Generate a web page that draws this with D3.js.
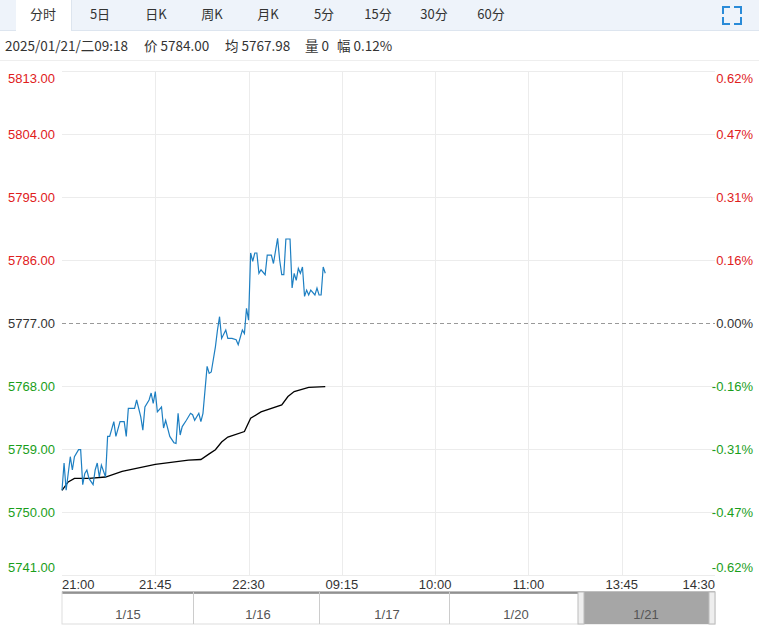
<!DOCTYPE html>
<html><head><meta charset="utf-8">
<script src="https://cdn.jsdelivr.net/npm/d3@7/dist/d3.min.js"></script>
<style>body{margin:0;background:#fff;font-family:"Microsoft YaHei","Noto Sans CJK SC",sans-serif}</style>
</head><body><svg id="c" width="759" height="629"></svg>
<script>
const tabs=["分时","5日","日K","周K","月K","5分","15分","30分","60分"];
const yTicks=[5813,5804,5795,5786,5777,5768,5759,5750,5741];
const pctTicks=["0.62%","0.47%","0.31%","0.16%","0.00%","-0.16%","-0.31%","-0.47%","-0.62%"];
const timeLabels=["21:00","21:45","22:30","09:15","10:00","11:00","13:45","14:30"];
const navDays=["1/15","1/16","1/17","1/20","1/21"];
const infoParts=["2025/01/21/二09:18","价 5784.00","均 5767.98","量 0","幅 0.12%"];
const priceMin=[0,1,2,4,5,6,8,9,10,11,12,13,15,16,17,18,19,21,22,23,25,26,28,30,31,32,35,36,38,39,40,42,43,44,45,46,48,49,50,52,54,55,56,57,58,60,62,63,64,66,67,68,70,71,72,74,75,76,77,79,80,82,84,85,87,88,89,90,91,92,93,94,95,96,98,99,101,102,104,105,106,107,108,110,111,112,113,114,115,116,117,118,119,120,122,123,124,125,126,127];
const price=[5753.1,5757.0,5753.1,5757.9,5756.0,5757.9,5758.9,5758.9,5753.9,5755.5,5756.0,5754.8,5753.9,5756.0,5757.0,5755.0,5756.7,5755.0,5760.8,5760.8,5762.9,5760.8,5762.9,5762.9,5760.8,5764.8,5764.8,5766.0,5763.6,5761.7,5765.0,5766.0,5767.0,5765.5,5767.2,5764.3,5765.0,5762.0,5763.1,5760.8,5759.9,5759.8,5764.1,5761.0,5762.2,5763.1,5764.1,5763.9,5763.1,5764.1,5762.9,5764.1,5770.8,5769.8,5770.0,5773.6,5776.0,5777.9,5774.8,5776.0,5774.8,5774.8,5774.6,5773.9,5776.0,5775.5,5779.1,5777.4,5787.0,5785.8,5787.0,5787.0,5784.1,5784.6,5783.9,5786.7,5786.7,5785.5,5789.1,5786.0,5783.9,5783.9,5789.0,5789.0,5782.0,5784.1,5783.1,5784.8,5784.1,5785.0,5780.8,5781.7,5781.0,5781.7,5781.0,5782.0,5781.0,5781.0,5785.0,5784.1];
const avgMin=[0,3,6,13,21,29,45,61,67,71,74,77,80,88,91,96,106,109,112,119,127];
const avg=[5753.1,5754.3,5754.8,5754.8,5755.0,5755.8,5756.8,5757.4,5757.5,5758.3,5758.9,5760.0,5760.7,5761.5,5763.4,5764.3,5765.3,5766.5,5767.2,5767.8,5767.9];
const prevClose=5777;

const svg=d3.select("#c");
const L=62,R=715,T=71,B=575;
svg.append("rect").attr("x",0).attr("y",0).attr("width",759).attr("height",30).attr("fill","#eef3fa");
svg.append("line").attr("x1",0).attr("x2",759).attr("y1",30.5).attr("y2",30.5).attr("stroke","#dde5ef");
svg.append("rect").attr("x",16).attr("y",0).attr("width",55).attr("height",31).attr("fill","#fff");
svg.append("line").attr("x1",71.5).attr("x2",71.5).attr("y1",0).attr("y2",30).attr("stroke","#dde5ef");
const tabX=[43,100,156,212,268,324,378,434,491];
tabs.forEach((t,i)=>svg.append("text").attr("x",tabX[i]).attr("y",19).attr("text-anchor","middle").attr("font-size",13).attr("fill","#333").text(t));
const ic=svg.append("g").attr("stroke","#2a8bd8").attr("stroke-width",2).attr("fill","none");
[[723,14,723,7,730,7],[734,7,741,7,741,14],[741,17,741,24,734,24],[730,24,723,24,723,17]].forEach(p=>ic.append("polyline").attr("points",`${p[0]},${p[1]} ${p[2]},${p[3]} ${p[4]},${p[5]}`));
const infoX=[5,144,225,305,337];
infoParts.forEach((s,i)=>svg.append("text").attr("x",infoX[i]).attr("y",51).attr("font-size",13.5).attr("fill","#333").text(s));
svg.append("line").attr("x1",0).attr("x2",759).attr("y1",60.5).attr("y2",60.5).attr("stroke","#eee");

const y=d3.scaleLinear().domain([5741,5813]).range([B,T]);
const x=d3.scaleLinear().domain([0,315]).range([L,R]);
const xs=d3.scalePoint().domain(timeLabels).range([L,R]);
const g=svg.append("g");
yTicks.forEach(v=>{ if(v!==prevClose) g.append("line").attr("x1",L).attr("x2",R).attr("y1",Math.round(y(v))+.5).attr("y2",Math.round(y(v))+.5).attr("stroke","#ececec");});
timeLabels.slice(1,-1).forEach(t=>g.append("line").attr("x1",Math.round(xs(t))+.5).attr("x2",Math.round(xs(t))+.5).attr("y1",T).attr("y2",B).attr("stroke","#ececec"));
g.append("line").attr("x1",L).attr("x2",R).attr("y1",Math.round(y(prevClose))+.5).attr("y2",Math.round(y(prevClose))+.5).attr("stroke","#999").attr("stroke-dasharray","4,3");
const col=v=>v>prevClose?"#e0201c":v<prevClose?"#1a9e1a":"#333";
yTicks.forEach((v,i)=>{
  let yy=y(v)+5; if(i===0) yy=y(v)+12; if(i===yTicks.length-1) yy=y(v)-3;
  g.append("text").attr("x",8).attr("y",yy).attr("font-size",13).attr("fill",col(v)).attr("font-family","Arial,Liberation Sans").text(v.toFixed(2));
  g.append("text").attr("x",753).attr("y",yy).attr("text-anchor","end").attr("font-size",13).attr("fill",col(v)).attr("font-family","Arial,Liberation Sans").text(pctTicks[i]);
});
const line=d3.line().x(d=>x(d[0])).y(d=>y(d[1]));
g.append("path").attr("d",line(avgMin.map((m,i)=>[m,avg[i]]))).attr("fill","none").attr("stroke","#000").attr("stroke-width",1.3);
g.append("path").attr("d",line(priceMin.map((m,i)=>[m,price[i]]))).attr("fill","none").attr("stroke","#1d7fc2").attr("stroke-width",1.2);
timeLabels.forEach((t,i)=>g.append("text").attr("x",xs(t)).attr("y",589).attr("text-anchor",i===0?"start":i===timeLabels.length-1?"end":"middle").attr("font-size",13).attr("fill","#333").attr("font-family","Arial,Liberation Sans").text(t));
const nT=592,nB=624;
svg.append("line").attr("x1",L).attr("x2",R).attr("y1",nT+.5).attr("y2",nT+.5).attr("stroke","#444").attr("stroke-width",2);
svg.append("rect").attr("x",L).attr("y",nT).attr("width",R-L).attr("height",nB-nT).attr("fill","none").attr("stroke","#ddd");
[193,319,449,580].forEach(v=>svg.append("line").attr("x1",v+.5).attr("x2",v+.5).attr("y1",nT).attr("y2",nB).attr("stroke","#ccc"));
const navX=[128,258,387,516,646];
svg.append("rect").attr("x",583).attr("y",nT).attr("width",129).attr("height",nB-nT).attr("fill","#a6a6a6");
svg.append("rect").attr("x",578).attr("y",nT).attr("width",6).attr("height",nB-nT).attr("fill","#eee").attr("stroke","#bbb");
svg.append("rect").attr("x",709).attr("y",nT).attr("width",6).attr("height",nB-nT).attr("fill","#eee").attr("stroke","#bbb");
navDays.forEach((d,i)=>svg.append("text").attr("x",navX[i]).attr("y",619).attr("text-anchor","middle").attr("font-size",13).attr("fill","#555").attr("font-family","Arial,Liberation Sans").text(d));
</script></body></html>
